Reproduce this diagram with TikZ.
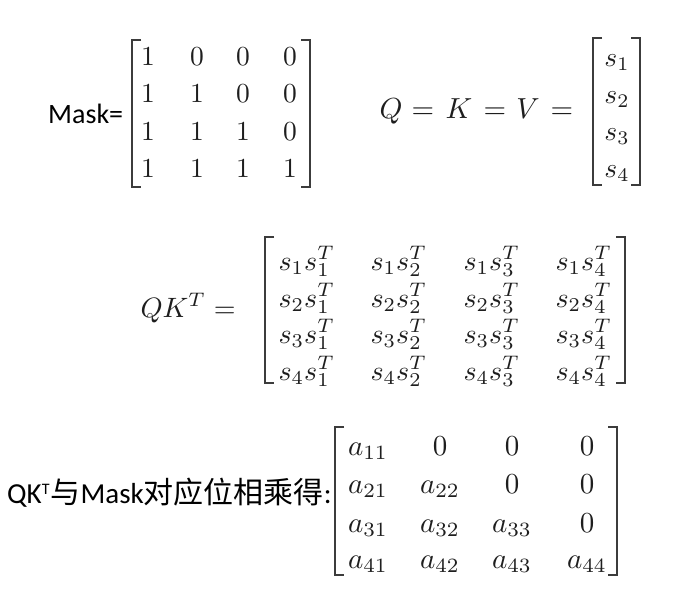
\documentclass[tikz,border=0pt]{standalone}
\usepackage{amsmath}
\usepackage{fontspec}
\newfontfamily\carl{Carlito}
\newfontfamily\cjk{Noto Sans CJK SC}
\definecolor{mathgray}{RGB}{30,30,30}
\definecolor{brkgray}{RGB}{60,60,60}
\newcommand\mybrackets[4]{%
  \draw[brk] (#1+9,#3) -- (#1,#3) -- (#1,#4) -- (#1+9,#4);
  \draw[brk] (#2-9,#3) -- (#2,#3) -- (#2,#4) -- (#2-9,#4);
}
\begin{document}
\begin{tikzpicture}[x=1pt,y=-1pt,
  brk/.style={draw=brkgray, line width=1.7pt},
  mbase/.style={font=\fontsize{10}{12}\selectfont, text=mathgray, inner sep=0pt, anchor=base, transform shape},
  mA/.style={mbase, scale=2.75},
  mB/.style={mbase, scale=2.8},
  mQ/.style={mbase, scale=2.9},
  mC/.style={mbase, scale=2.9},
  lbl/.style={font=\fontsize{28}{33}\selectfont\carl, text=black, inner sep=0pt, anchor=base west},
  lblb/.style={font=\fontsize{29}{33}\selectfont\carl, text=black, inner sep=0pt, anchor=base west}]
\useasboundingbox (0,0) rectangle (673,611);
\fill[white] (0,0) rectangle (673,611);

% Mask =
\node[lbl] (masklbl) at (48,123) {Mask=};
\mybrackets{132}{310}{40}{187}
\foreach \r/\y in {1/65,2/102,3/140,4/177}
  \foreach \c/\x in {1/148,2/197,3/243,4/290}
    \node[mA] (mk\r\c) at (\x,\y) {$\ifnum\c>\r\relax 0\else 1\fi$};

% Q = K = V =
\node[mQ] (q1) at (391,118) {$Q$};
\node[mQ] (e1) at (423,118) {$=$};
\node[mQ] (k1) at (459,118) {$K$};
\node[mQ] (e2) at (495,118) {$=$};
\node[mQ] (v1) at (528,118) {$V$};
\node[mQ] (e3) at (562,118) {$=$};
\mybrackets{593}{640}{38}{185}
\foreach \r/\y in {1/66,2/103,3/140,4/177}
  \node[mA] (s\r) at (617,\y) {$s_\r$};

% QK^T =
\node[mB, anchor=base west] (qkl) at (140,317) {$QK^T =$};
\mybrackets{265}{625}{237}{383}
\foreach \r/\y in {1/270,2/307,3/343,4/380}
  \foreach \c/\x in {1/278,2/370,3/463,4/555}
    \node[mB, anchor=base west] (qk\r\c) at (\x,\y) {$s_\r s_\c^T$};

% result
\node[lblb] (reslbl) at (7,503) {QK\raisebox{8.2pt}{\fontsize{16}{18}\selectfont T}\hspace{1pt}{\fontsize{30}{33}\selectfont\cjk 与}Mask{\fontsize{30}{33}\selectfont\cjk 对应位相乘得}:};
\mybrackets{335}{617}{427}{575}
\foreach \r/\y in {1/455,2/493,3/532,4/568}
  \foreach \c/\x in {1/368,2/440,3/512,4/587}
    \node[mC] (a\r\c) at (\x,\y) {$\ifnum\c>\r\relax 0\else a_{\r\c}\fi$};
\end{tikzpicture}
\end{document}
